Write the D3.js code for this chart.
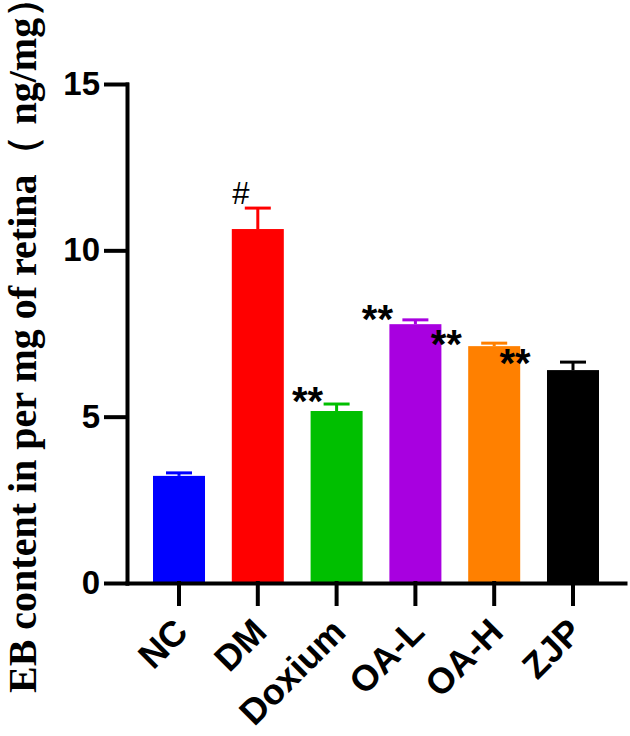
<!DOCTYPE html>
<html>
<head>
<meta charset="utf-8">
<script src="https://cdn.jsdelivr.net/npm/d3@7"></script>
<style>
  html, body { margin: 0; padding: 0; background: #fff; }
  svg { display: block; }
</style>
</head>
<body>
<div id="chart"></div>
<script>
// group names and measured EB content (ng/mg), mean and error
const categories= ['NC', 'DM', 'Doxium', 'OA-L', 'OA-H', 'ZJP'];
const means= [3.22, 10.64, 5.17, 7.78, 7.12, 6.40];
const errors= [0.09, 0.63, 0.21, 0.13, 0.09, 0.24];
const marks= ['', '#', '**', '**', '**', '**'];
const yTicks= [0, 5, 10, 15];

const COLORS= ['#0000ff', '#ff0000', '#00bf00', '#a800e0', '#ff8000', '#000000'];

const W= 630;
const H= 736;
const plotL= 127, plotR= 625, plotT= 84, plotB= 583;

// the significance marks sit a little off the bars in the original figure
const markShift= [0, -17, -29, -38, -48, -58];
const markDy= [0, -4, 11, 13, 15, 15];

const svg= d3.select('#chart')
  .append('svg')
  .attr('width', W)
  .attr('height', H);

const x= d3.scaleBand()
  .domain(categories)
  .range([plotL, plotR])
  .paddingInner(0.34)
  .paddingOuter(0.33);

const y= d3.scaleLinear()
  .domain([0, 15])
  .range([plotB, plotT]);

const data= categories.map((c, i) => ({ cat: c, mean: means[i], err: errors[i], mark: marks[i], color: COLORS[i], i }));

// bars
svg.append('g')
  .selectAll('rect')
  .data(data)
  .join('rect')
  .attr('x', d => x(d.cat))
  .attr('width', x.bandwidth())
  .attr('y', d => y(d.mean))
  .attr('height', d => y(0)-y(d.mean))
  .attr('fill', d => d.color);

// upper error bars
const eb= svg.append('g')
  .selectAll('g')
  .data(data)
  .join('g')
  .attr('stroke', d => d.color)
  .attr('stroke-width', 3);

eb.append('line')
  .attr('x1', d => x(d.cat)+x.bandwidth()/2)
  .attr('x2', d => x(d.cat)+x.bandwidth()/2)
  .attr('y1', d => y(d.mean))
  .attr('y2', d => y(d.mean+d.err));

eb.append('line')
  .attr('x1', d => x(d.cat)+x.bandwidth()/2-13)
  .attr('x2', d => x(d.cat)+x.bandwidth()/2+13)
  .attr('y1', d => y(d.mean+d.err))
  .attr('y2', d => y(d.mean+d.err));

// significance marks
svg.append('g')
  .selectAll('text')
  .data(data.filter(d => d.mark))
  .join('text')
  .attr('x', d => x(d.cat)+x.bandwidth()/2+markShift[d.i])
  .attr('y', d => y(d.mean+d.err)+markDy[d.i])
  .attr('text-anchor', 'middle')
  .attr('font-family', 'Liberation Sans, Arial, sans-serif')
  .attr('font-weight', d => d.mark === '#' ? 400 : 700)
  .attr('font-size', d => d.mark === '#' ? 31 : 40)
  .attr('fill', '#000')
  .text(d => d.mark);

// y axis
const gy= svg.append('g')
  .attr('transform', `translate(${plotL},0)`)
  .call(d3.axisLeft(y).tickValues(yTicks).tickSize(21).tickPadding(6).tickSizeOuter(0));

// x axis
const gx= svg.append('g')
  .attr('transform', `translate(0,${plotB})`)
  .call(d3.axisBottom(x).tickSize(21).tickSizeOuter(0));

[gx, gy].forEach(g => {
  g.selectAll('path, line')
    .attr('stroke', '#000')
    .attr('stroke-width', 4)
    .attr('stroke-linecap', 'square');
  g.selectAll('text')
    .attr('fill', '#000')
    .attr('font-family', 'Liberation Sans, Arial, sans-serif')
    .attr('font-weight', 700);
});

gy.selectAll('.tick text').attr('font-size', 33);

gx.selectAll('.tick text')
  .attr('font-size', 36)
  .attr('x', 0)
  .attr('y', 0)
  .attr('dy', 0)
  .attr('text-anchor', 'end')
  .attr('transform', 'translate(11,51) rotate(-45)');

// y axis title
svg.append('text')
  .attr('transform', 'translate(36,693) rotate(-90)')
  .attr('text-anchor', 'start')
  .attr('font-family', 'Liberation Serif, Times New Roman, serif')
  .attr('font-weight', 700)
  .attr('font-size', 40)
  .attr('fill', '#000')
  .text('EB content in per mg of retina（ ng/mg）');
</script>
</body>
</html>
